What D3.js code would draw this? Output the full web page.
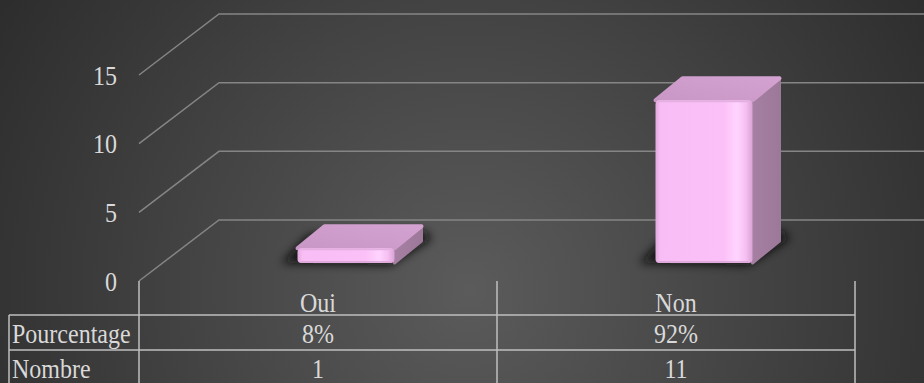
<!DOCTYPE html>
<html><head><meta charset="utf-8">
<script src="https://cdn.jsdelivr.net/npm/d3@7"></script>
<style>html,body{margin:0;padding:0;background:#3a3a3a;}svg{display:block;}
svg text{font-family:'Liberation Serif','Times New Roman','DejaVu Serif',serif;}</style>
</head><body>
<script>
const categories = ["Oui", "Non"];
const values = [1, 11];
const percentages = ["8%", "92%"];
const yTicks = [0, 5, 10, 15];
const rowLabels = ["Pourcentage", "Nombre"];

const W = 924, H = 383;
const svg = d3.select("body").append("svg").attr("width", W).attr("height", H);
const defs = svg.append("defs");

const bg = defs.append("radialGradient").attr("id", "bg")
  .attr("gradientUnits", "userSpaceOnUse").attr("cx", 470).attr("cy", 290).attr("r", 560);
bg.append("stop").attr("offset", "0%").attr("stop-color", "#5b5b5b");
bg.append("stop").attr("offset", "100%").attr("stop-color", "#2c2c2c");
svg.append("rect").attr("width", W).attr("height", H).attr("fill", "url(#bg)");

const front = defs.append("linearGradient").attr("id", "front").attr("x1", 0).attr("x2", 1).attr("y1", 0).attr("y2", 0);
[["0%", "#e2a9de"], ["5%", "#f8bdf4"], ["70%", "#fbc0f7"], ["84%", "#ffd4ff"], ["93%", "#f6c0f2"], ["100%", "#d8a2d4"]]
  .forEach(([o, c]) => front.append("stop").attr("offset", o).attr("stop-color", c));
const topG = defs.append("linearGradient").attr("id", "topg").attr("x1", 0).attr("x2", 1).attr("y1", 1).attr("y2", 0);
[["0%", "#c897c5"], ["100%", "#d3a2d0"]].forEach(([o, c]) => topG.append("stop").attr("offset", o).attr("stop-color", c));
const sideG = defs.append("linearGradient").attr("id", "sideg").attr("x1", 0).attr("x2", 1).attr("y1", 0).attr("y2", 0);
[["0%", "#a680a3"], ["100%", "#9c7899"]].forEach(([o, c]) => sideG.append("stop").attr("offset", o).attr("stop-color", c));
const blur = defs.append("filter").attr("id", "blur").attr("x", "-50%").attr("y", "-50%").attr("width", "200%").attr("height", "200%");
blur.append("feGaussianBlur").attr("stdDeviation", 5);

// Scales
const x = d3.scaleBand().domain(categories).range([139, 855]);
const yGrid = d3.scaleLinear().domain([0, 15]).range([281, 75]);
const yBar = d3.scaleLinear().domain([0, 15]).range([263, 41]);
const back = { dx: 80, dy: -61 };
const depth = { dx: 27, dy: -22 };
const barW = 97, barShift = 28;
const stretch = 1.15;

// Gridlines
const grid = svg.append("g").attr("stroke", "#858585").attr("stroke-width", 1.5).attr("fill", "none");
yTicks.forEach(v => {
  const y0 = yGrid(v);
  grid.append("path").attr("d", `M${x.range()[0]},${y0}L${x.range()[0] + back.dx},${y0 + back.dy}L${W},${y0 + back.dy}`);
});

// Y labels
svg.append("g").selectAll("text").data(yTicks).join("text")
  .attr("transform", d => `translate(117,${yGrid(d)}) scale(1,${stretch})`)
  .attr("dy", "0.35em")
  .attr("text-anchor", "end").attr("fill", "#d9d9d9").attr("font-size", 24)
  .text(d => d);

// Bars
const bars = svg.append("g").selectAll("g").data(categories.map((c, i) => ({ c, v: values[i] }))).join("g");
bars.each(function (d) {
  const g = d3.select(this);
  const x0 = x(d.c) + x.bandwidth() / 2 - barW / 2 + barShift, x1 = x0 + barW;
  const yb = yBar(0), yt = yBar(d.v);
  g.append("path").attr("d",
    `M${x0 - 16},${yb}L${x1 - 4},${yb + 2}L${x1 + depth.dx + 10},${yb + depth.dy - 2}L${x1 + depth.dx + 4},${yb + depth.dy - 10}L${x0 + depth.dx - 16},${yb + depth.dy - 6}Z`)
    .attr("fill", "#0c0c0c").attr("opacity", 0.9).attr("filter", "url(#blur)");
  g.append("path").attr("d",
    `M${x1},${yt}L${x1 + depth.dx},${yt + depth.dy}L${x1 + depth.dx},${yb + depth.dy}L${x1},${yb}Z`)
    .attr("fill", "url(#sideg)").attr("stroke", "url(#sideg)").attr("stroke-width", 3).attr("stroke-linejoin", "round");
  g.append("path").attr("d",
    `M${x0},${yt}L${x0 + depth.dx},${yt + depth.dy}L${x1 + depth.dx},${yt + depth.dy}L${x1},${yt}Z`)
    .attr("fill", "url(#topg)").attr("stroke", "url(#topg)").attr("stroke-width", 4).attr("stroke-linejoin", "round");
  g.append("rect").attr("x", x0).attr("y", yt).attr("width", barW).attr("height", yb - yt)
    .attr("rx", 4).attr("fill", "url(#front)");
  g.append("line").attr("x1", x0 + 3).attr("x2", x1 - 3).attr("y1", yt + 1).attr("y2", yt + 1)
    .attr("stroke", "#e4b0e1").attr("stroke-width", 2);
  g.append("line").attr("x1", x0 + 3).attr("x2", x1 - 4).attr("y1", yb - 1).attr("y2", yb - 1)
    .attr("stroke", "#d9a3d5").attr("stroke-width", 1.5);
});

// Table
const tbl = svg.append("g").attr("stroke", "#bfbfbf").attr("stroke-width", 1.5).attr("fill", "none");
const tLeft = 9, tRight = 855, rowY = [315, 350, 385];
tbl.append("line").attr("x1", 139).attr("x2", 139).attr("y1", yGrid(0)).attr("y2", 385);
categories.forEach(c => {
  tbl.append("line").attr("x1", x(c) + x.bandwidth()).attr("x2", x(c) + x.bandwidth()).attr("y1", yGrid(0)).attr("y2", 385);
});
tbl.append("line").attr("x1", tLeft).attr("x2", tLeft).attr("y1", rowY[0]).attr("y2", 385);
rowY.forEach(y => tbl.append("line").attr("x1", tLeft).attr("x2", tRight).attr("y1", y).attr("y2", y));

const txt = svg.append("g").attr("fill", "#d9d9d9").attr("font-size", 24);
const cx = i => x(categories[i]) + x.bandwidth() / 2;
txt.selectAll("text.cat").data(categories).join("text").attr("class", "cat")
  .attr("transform", (d, i) => `translate(${cx(i)},302) scale(1,${stretch})`)
  .attr("dy", "0.35em").attr("text-anchor", "middle").text(d => d);
txt.selectAll("text.pct").data(percentages).join("text").attr("class", "pct")
  .attr("transform", (d, i) => `translate(${cx(i)},333) scale(1,${stretch})`)
  .attr("dy", "0.35em").attr("text-anchor", "middle").text(d => d);
txt.selectAll("text.num").data(values).join("text").attr("class", "num")
  .attr("transform", (d, i) => `translate(${cx(i)},368) scale(1,${stretch})`)
  .attr("dy", "0.35em").attr("text-anchor", "middle").text(d => d);
txt.selectAll("text.row").data(rowLabels).join("text").attr("class", "row")
  .attr("transform", (d, i) => `translate(12,${[333, 368][i]}) scale(1,${stretch})`)
  .attr("dy", "0.35em").text(d => d);
</script>
</body></html>
